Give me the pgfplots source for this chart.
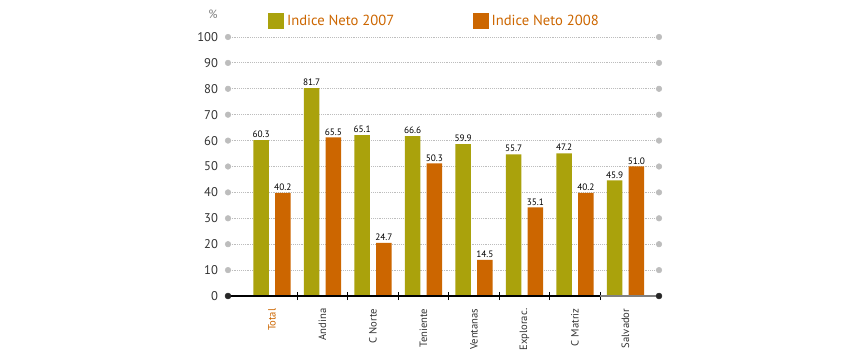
\documentclass[border=0pt]{standalone}
\usepackage{pgfplots}
\pgfplotsset{compat=1.18}
\usepackage{pgfplotstable}
\usepackage{fontspec}
\setmainfont{PT Sans}
\usetikzlibrary{calc}
\definecolor{olv}{HTML}{AAA20C}
\definecolor{orng}{HTML}{CC6600}
\definecolor{gridc}{HTML}{BDBDBD}
\definecolor{txt}{HTML}{333333}

\pgfplotstableread{
x y lab
0 60.2 60.3
1 80.3 81.7
2 62.1 65.1
3 61.7 66.6
4 58.6 59.9
5 54.7 55.7
6 55.1 47.2
7 44.6 45.9
}\tA
\pgfplotstableread{
x y lab
0 39.8 40.2
1 61.2 65.5
2 20.5 24.7
3 51.2 50.3
4 13.9 14.5
5 34.2 35.1
6 39.8 40.2
7 50.0 51.0
}\tB

\begin{document}
\begin{tikzpicture}
\begin{axis}[
  scale only axis,
  width=323.25bp, height=194.25bp,
  xmin=-0.871, xmax=7.663, ymin=0, ymax=100,
  clip=false,
  axis line style={draw=none},
  ytick={0,10,...,100},
  ymajorgrids,
  grid style={gridc, densely dotted, line width=0.7pt},
  major tick length=0pt,
  xtick={0,...,7},
  xticklabels={\textcolor{orng}{Total},Andina,C Norte,Teniente,Ventanas,Explorac.,C Matriz,Salvador},
  xticklabel style={rotate=90, anchor=east, font=\fontsize{8}{9}\selectfont, text=txt},
  xticklabel shift=6bp,
  extra x ticks={0.5,1.5,...,6.5},
  extra x tick labels={},
  extra x tick style={major tick length=6bp, tick align=center, tick style={black, line width=0.6pt}},
  xtick pos=bottom, ytick pos=left,
  yticklabel style={font=\fontsize{9.5}{11}\selectfont, text=txt, xshift=-4bp},
  /pgf/number format/assume math mode=true,
  legend columns=2,
  legend style={at={(0.093,1.0965)}, anchor=north west, draw=none, fill=none,
    inner sep=0pt, font=\fontsize{11}{13}\selectfont, text=orng,
    /tikz/every even column/.append style={column sep=57bp}},
  legend image code/.code={\fill[#1] (0bp,-6bp) rectangle (12bp,6bp);},
  point meta=explicit symbolic,
]
\addplot[ybar, bar width=0.31, bar shift=-0.215, fill=olv, draw=none,
  nodes near coords, every node near coord/.append style={font=\fontsize{7}{8}\selectfont, black, inner sep=1.5bp, xshift=-8.14bp}]
  table[x=x, y=y, meta=lab] {\tA};
\addlegendentry{Indice Neto 2007}
\addplot[ybar, bar width=0.31, bar shift=0.215, fill=orng, draw=none,
  nodes near coords, every node near coord/.append style={font=\fontsize{7}{8}\selectfont, black, inner sep=1.5bp, xshift=8.14bp}]
  table[x=x, y=y, meta=lab] {\tB};
\addlegendentry{Indice Neto 2008}
\addplot[only marks, mark=*, mark size=2.1pt, gridc, forget plot] coordinates {
(-0.871,10)(-0.871,20)(-0.871,30)(-0.871,40)(-0.871,50)(-0.871,60)(-0.871,70)(-0.871,80)(-0.871,90)(-0.871,100)
(7.663,10)(7.663,20)(7.663,30)(7.663,40)(7.663,50)(7.663,60)(7.663,70)(7.663,80)(7.663,90)(7.663,100)};
\draw[black, line width=0.8pt] (axis cs:-0.871,0) -- (axis cs:6.5,0);
\draw[gray, line width=0.8pt] (axis cs:6.5,0) -- (axis cs:7.663,0);
\addplot[only marks, mark=*, mark size=2.2pt, black!85, forget plot] coordinates {(-0.871,0)(7.663,0)};
\node[text=gray, font=\fontsize{9}{10}\selectfont] at (rel axis cs:-0.035,1.089) {\%};
\coordinate (ll) at (rel axis cs:0,0);
\coordinate (ur) at (rel axis cs:1,1);
\end{axis}
\pgfresetboundingbox
\path[use as bounding box] ($(ll)+(-171bp,-44.25bp)$) rectangle ($(ur)+(156bp,27.75bp)$);
\end{tikzpicture}
\end{document}
